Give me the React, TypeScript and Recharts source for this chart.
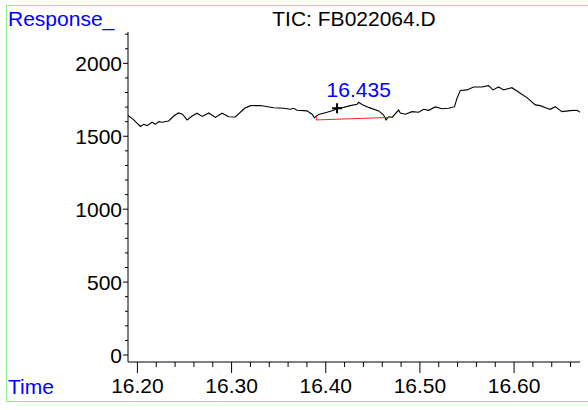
import { LineChart, Line, XAxis, YAxis, ReferenceDot } from 'recharts'

// TIC trace
const ticTimes = [
  16.1901, 16.1961, 16.2032, 16.2067, 16.2103, 16.2156, 16.2191, 16.2226, 16.2262, 16.2332,
  16.2385, 16.2435, 16.2478, 16.2528, 16.2581, 16.2634, 16.2687, 16.2757, 16.2828, 16.2899,
  16.2969, 16.304, 16.3139, 16.32, 16.3306, 16.3447, 16.3553, 16.3624, 16.3659, 16.3695,
  16.3801, 16.3855, 16.3879, 16.3925, 16.4014, 16.4084, 16.412, 16.419, 16.4261, 16.4332,
  16.4349, 16.4385, 16.4455, 16.4562, 16.4615, 16.464, 16.4668, 16.4704, 16.4774, 16.4792,
  16.4845, 16.4916, 16.4986, 16.5039, 16.5092, 16.5163, 16.5235, 16.5305, 16.5368, 16.5394,
  16.5429, 16.55, 16.557, 16.5659, 16.5729, 16.5776, 16.5835, 16.5889, 16.5977, 16.6066,
  16.6137, 16.6225, 16.6278, 16.6349, 16.6384, 16.6437, 16.6508, 16.6597, 16.6668, 16.6703,
]
const ticResponse = [
  1643, 1612, 1567, 1582, 1573, 1596, 1582, 1600, 1596, 1605,
  1639, 1660, 1651, 1612, 1639, 1658, 1636, 1660, 1629, 1658,
  1634, 1632, 1692, 1710, 1711, 1696, 1692, 1685, 1692, 1678,
  1674, 1651, 1628, 1650, 1665, 1678, 1692, 1698, 1710, 1719,
  1733, 1718, 1698, 1674, 1646, 1612, 1634, 1630, 1680, 1660,
  1651, 1669, 1665, 1685, 1678, 1701, 1689, 1692, 1703, 1761,
  1814, 1818, 1838, 1838, 1847, 1818, 1838, 1818, 1833, 1795,
  1765, 1715, 1710, 1692, 1685, 1703, 1669, 1676, 1678, 1665,
]

// integration baseline (red)
const baseTimes = [16.39, 16.39, 16.4714]
const baseResponse = [1634, 1612, 1630]

// peak annotation
const peakLabel = '16.435'
const peakLabelAt = { t: 16.435, v: 1770 }
const cursorAt = { t: 16.412, v: 1692 }

const xTicks = [
  16.2, 16.22, 16.24, 16.26, 16.28, 16.3, 16.32, 16.34, 16.36, 16.38, 16.4, 16.42,
  16.44, 16.46, 16.48, 16.5, 16.52, 16.54, 16.56, 16.58, 16.6, 16.62, 16.64, 16.66,
]
const yTicks = [
  0, 100, 200, 300, 400, 500, 600, 700, 800, 900, 1000, 1100, 1200, 1300, 1400, 1500,
  1600, 1700, 1800, 1900, 2000, 2100, 2200,
]

const ticData = ticTimes.map((t, i) => ({ t, v: ticResponse[i] }))
const baseData = baseTimes.map((t, i) => ({ t, v: baseResponse[i] }))

const FONT = '"Liberation Sans", Arial, sans-serif'
const FS = 21

function XTick(props: any) {
  const { x, y, payload } = props
  const v = payload.value as number
  const major = Math.round(v * 100) % 10 === 0
  return (
    <g>
      <line x1={x} x2={x} y1={y} y2={y + (major ? 11 : 5)} stroke="#000" />
      {major && (
        <text x={x} y={y + 31} textAnchor="middle" fontFamily={FONT} fontSize={FS} fill="#000">
          {v.toFixed(2)}
        </text>
      )}
    </g>
  )
}

function YTick(props: any) {
  const { x, y, payload } = props
  const v = payload.value as number
  const major = v % 500 === 0
  return (
    <g>
      <line x1={x - (major ? 5 : 3)} x2={x} y1={y} y2={y} stroke="#000" />
      {major && (
        <text x={x - 6} y={y + 8} textAnchor="end" fontFamily={FONT} fontSize={FS} fill="#000">
          {v}
        </text>
      )}
    </g>
  )
}

function PlusMark(props: any) {
  const { cx, cy } = props
  return (
    <g stroke="#000" strokeWidth={2}>
      <line x1={cx - 5} x2={cx + 5} y1={cy} y2={cy} />
      <line x1={cx} x2={cx} y1={cy - 5} y2={cy + 5} />
    </g>
  )
}

function PeakText(props: any) {
  const { cx, cy } = props
  return (
    <text x={cx} y={cy} textAnchor="middle" fontFamily={FONT} fontSize={FS} fill="#0000ff">
      {peakLabel}
    </text>
  )
}

export default function App() {
  return (
    <div
      style={{
        position: 'absolute',
        left: 0,
        top: 0,
        width: 588,
        height: 410,
        overflow: 'hidden',
        background: '#fff',
      }}
    >
      <div
        style={{
          position: 'absolute',
          left: 6,
          top: 5,
          width: 600,
          height: 395,
          border: '1px solid #90ee90',
        }}
      />
      <LineChart
        width={588}
        height={410}
        data={ticData}
        margin={{ top: 32, right: 8, bottom: 0, left: 0 }}
      >
        <XAxis
          type="number"
          dataKey="t"
          domain={[16.19, 16.67]}
          ticks={xTicks}
          tick={<XTick />}
          tickLine={false}
          tickSize={0}
          tickMargin={0}
          axisLine={{ stroke: '#000' }}
          height={48}
          allowDataOverflow
          interval={0}
        />
        <YAxis
          type="number"
          domain={[-48, 2215]}
          ticks={yTicks}
          tick={<YTick />}
          tickLine={false}
          tickSize={0}
          tickMargin={0}
          axisLine={{ stroke: '#000' }}
          width={128}
          allowDataOverflow
          interval={0}
        />
        <Line
          type="linear"
          dataKey="v"
          stroke="#000"
          strokeWidth={1.1}
          dot={false}
          isAnimationActive={false}
        />
        <Line
          data={baseData}
          type="linear"
          dataKey="v"
          stroke="#ff2020"
          strokeWidth={1}
          dot={false}
          isAnimationActive={false}
        />
        <ReferenceDot x={cursorAt.t} y={cursorAt.v} r={5} shape={<PlusMark />} />
        <ReferenceDot x={peakLabelAt.t} y={peakLabelAt.v} r={1} shape={<PeakText />} />
      </LineChart>
      <svg
        width={588}
        height={410}
        style={{ position: 'absolute', left: 0, top: 0, pointerEvents: 'none' }}
      >
        <text x={8} y={26} fontFamily={FONT} fontSize={FS} fill="#0000ff">
          Response_
        </text>
        <text x={8} y={394} fontFamily={FONT} fontSize={FS} fill="#0000ff">
          Time
        </text>
        <text x={354} y={26} textAnchor="middle" fontFamily={FONT} fontSize={FS} fill="#000">
          TIC: FB022064.D
        </text>
      </svg>
    </div>
  )
}
